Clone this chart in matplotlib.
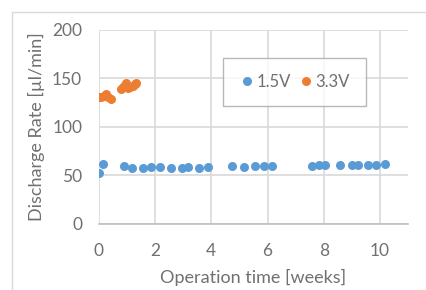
import numpy as np
import matplotlib.pyplot as plt
from matplotlib.patches import Rectangle

plt.rcParams['font.family'] = ['Lato', 'DejaVu Sans']

# 1.5V series
t_15 = [0.0, 0.14, 0.91, 1.18, 1.58, 1.85, 2.19, 2.58, 2.96, 3.18, 3.57, 3.9,
        4.72, 5.16, 5.56, 5.88, 6.17, 7.57, 7.83, 8.06, 8.56, 9.0, 9.21,
        9.58, 9.87, 10.18]
rate_15 = [53, 61.5, 60, 58, 58, 59, 59, 58, 58, 59, 58, 59,
           60, 59, 60, 60, 60, 60, 61, 61, 61, 61, 61, 61, 61, 62]

# 3.3V series
t_33 = [0.0, 0.08, 0.18, 0.24, 0.33, 0.45, 0.78, 0.85, 0.92, 0.98, 1.02,
        1.12, 1.22, 1.28, 1.33]
rate_33 = [131, 131, 132, 134.5, 131, 129, 139, 141, 143, 145.5, 140,
           141, 142, 144, 145.5]

xticks = [0, 2, 4, 6, 8, 10]
yticks = [0, 50, 100, 150, 200]

grey_txt = '#707070'
grid_c = '#D9D9D9'

fig = plt.figure(figsize=(4.26, 2.90), dpi=100)
fig.patches.append(Rectangle((12 / 426, -0.1), 1.0, 1.1 - 12 / 290,
                             transform=fig.transFigure, fill=False,
                             edgecolor='#D9D9D9', lw=1.0))
ax = fig.add_axes([0.232, 0.2276, 0.726, 0.669])

ax.plot(t_15, rate_15, 'o', color='#5B9BD5', ms=6.5, mew=0, label='1.5V')
ax.plot(t_33, rate_33, 'o', color='#ED7D31', ms=6.5, mew=0, label='3.3V')

ax.set_xlim(0, 11)
ax.set_ylim(0, 200)
ax.set_xticks(xticks)
ax.set_yticks(yticks)
ax.grid(True, color=grid_c, lw=1.2)
ax.set_axisbelow(True)
for s in ['top', 'right', 'left']:
    ax.spines[s].set_visible(False)
ax.spines['bottom'].set_color('#BFBFBF')
ax.spines['bottom'].set_linewidth(1.2)
ax.tick_params(axis='y', length=0, labelsize=12.5, colors=grey_txt, pad=12)
ax.tick_params(axis='x', length=0, labelsize=12.5, colors=grey_txt, pad=14)

ax.set_xlabel('Operation time [weeks]', fontsize=13, color=grey_txt, labelpad=7)
ax.set_ylabel('Discharge Rate [µl/min]', fontsize=13, color=grey_txt, labelpad=5)

leg = ax.legend(loc='upper left', bbox_to_anchor=(0.401, 0.856), ncol=2,
                fontsize=12, frameon=True, fancybox=False, handletextpad=0.05,
                columnspacing=0.45, borderpad=0.95, handlelength=1.0,
                markerscale=1.0, borderaxespad=0)
leg.get_frame().set_edgecolor('#A6A6A6')
leg.get_frame().set_linewidth(1.0)
for txt in leg.get_texts():
    txt.set_color(grey_txt)

fig.savefig('out.png', dpi=100)
